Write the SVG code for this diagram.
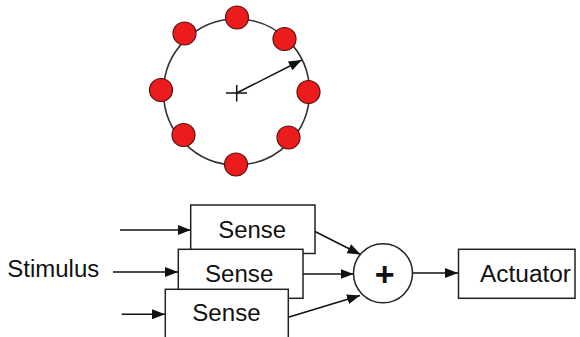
<svg xmlns="http://www.w3.org/2000/svg" width="580" height="337" viewBox="0 0 580 337">
  <defs>
    <marker id="arrow" markerUnits="userSpaceOnUse" markerWidth="14" markerHeight="10" refX="13" refY="5" orient="auto">
      <path d="M0,0 L13,5 L0,10 Z" fill="#111"/>
    </marker>
    <style>
      .ring { fill: none; stroke: #333; stroke-width: 1.6; }
      .dot { fill: #ec1c1c; stroke: #5a1010; stroke-width: 1.2; }
      .box { fill: #fff; stroke: #222; stroke-width: 1.5; }
      .wire { fill: none; stroke: #111; stroke-width: 1.5; }
      .lbl { font-family: "Liberation Sans", Arial, sans-serif; font-size: 23px; fill: #111; }
    </style>
  </defs>

  <rect width="580" height="337" fill="#fff"/>

  <!-- ring of sensors -->
  <g id="ring">
    <circle class="ring" cx="236.5" cy="92" r="73"/>
    <line class="wire" x1="226" y1="93" x2="247" y2="93" stroke-width="1.2"/>
    <line class="wire" x1="236.7" y1="85" x2="236.7" y2="101.5" stroke-width="1.2"/>
    <line class="wire" x1="236.7" y1="93" x2="301.7" y2="60" marker-end="url(#arrow)"/>
    <circle class="dot" cx="237" cy="17.5" r="11.5"/>
    <circle class="dot" cx="284.5" cy="39" r="11.5"/>
    <circle class="dot" cx="308.5" cy="92" r="11.5"/>
    <circle class="dot" cx="288.5" cy="137.5" r="11.5"/>
    <circle class="dot" cx="236" cy="164.5" r="11.5"/>
    <circle class="dot" cx="183.5" cy="135" r="11.5"/>
    <circle class="dot" cx="161" cy="90" r="11.5"/>
    <circle class="dot" cx="184.5" cy="33.5" r="11.5"/>
  </g>

  <!-- connectors -->
  <g id="connectors">
    <line class="wire" x1="120" y1="230" x2="190.7" y2="230" marker-end="url(#arrow)"/>
    <line class="wire" x1="113" y1="272" x2="178" y2="272" marker-end="url(#arrow)"/>
    <line class="wire" x1="121.7" y1="314.3" x2="165" y2="314.3" marker-end="url(#arrow)"/>
    <line class="wire" x1="315" y1="231.5" x2="360.5" y2="254.5" marker-end="url(#arrow)"/>
    <line class="wire" x1="302.5" y1="274" x2="353.5" y2="274" marker-end="url(#arrow)"/>
    <line class="wire" x1="288.3" y1="317.3" x2="360" y2="295.5" marker-end="url(#arrow)"/>
    <line class="wire" x1="412.7" y1="273" x2="458" y2="273" marker-end="url(#arrow)"/>
  </g>

  <text class="lbl" x="7.3" y="277.3" textLength="92" lengthAdjust="spacingAndGlyphs">Stimulus</text>

  <g id="sense1">
    <rect class="box" x="190.7" y="205" width="124.3" height="48.5"/>
    <text class="lbl" x="218.3" y="238.3" textLength="67.7" lengthAdjust="spacingAndGlyphs">Sense</text>
  </g>
  <g id="sense2">
    <rect class="box" x="178.3" y="249.3" width="124.7" height="49"/>
    <text class="lbl" x="205" y="281.7" textLength="68.3" lengthAdjust="spacingAndGlyphs">Sense</text>
  </g>
  <g id="sense3">
    <rect class="box" x="165.3" y="289.3" width="123" height="52"/>
    <text class="lbl" x="192.3" y="321" textLength="68.3" lengthAdjust="spacingAndGlyphs">Sense</text>
  </g>

  <g id="sum">
    <circle cx="383" cy="273.3" r="29.5" fill="#fff" stroke="#222" stroke-width="1.5"/>
    <text x="384.7" y="285.5" text-anchor="middle" font-family="Liberation Sans, Arial, sans-serif" font-weight="bold" font-size="34" fill="#111">+</text>
  </g>

  <g id="actuator">
    <rect class="box" x="458.5" y="249.3" width="116.5" height="49"/>
    <text class="lbl" x="480" y="281.7" textLength="91" lengthAdjust="spacingAndGlyphs">Actuator</text>
  </g>
</svg>
